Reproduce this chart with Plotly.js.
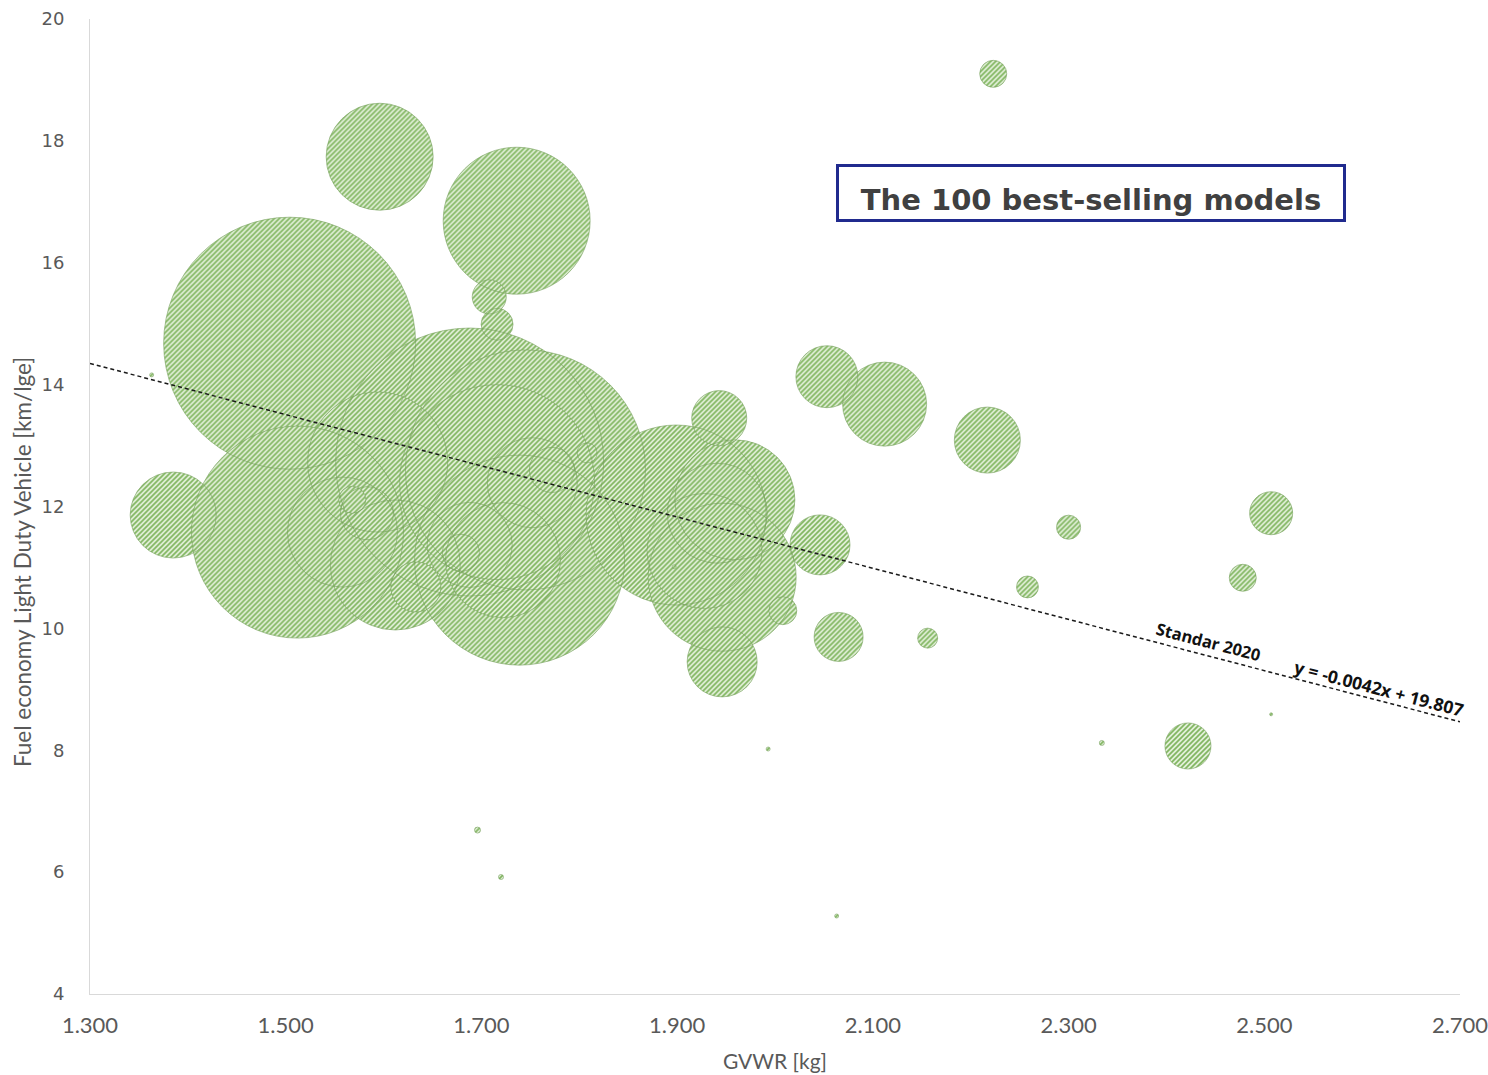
<!DOCTYPE html>
<html>
<head>
<meta charset="utf-8">
<script src="https://cdn.plot.ly/plotly-3.0.1.min.js"></script>
<style>
  html, body { margin: 0; padding: 0; background: #ffffff; }
  #chart { width: 1488px; height: 1075px; }
</style>
</head>
<body>
<div id="chart"></div>
<script>
// ---- Data ----
// GVWR [kg] of each model
const gvwr = [
  1504, 1596, 1736, 1708, 1716, 1385, 1512, 1688, 1745, 1739,
  1612, 1594, 1558, 1583, 1568, 1633, 1688, 1722, 1752, 1772,
  1808, 1679, 1716, 1899, 1959, 1946, 1941, 1928, 1943, 1946,
  2008, 2046, 2065, 2053, 2112, 2217, 2223, 2300, 2507, 2258,
  2478, 2156, 2422, 1363, 1696, 1720, 1993, 2063, 2334, 2507,
  1897
];
// Fuel economy [km/lge]
const fuelEconomy = [
  14.68, 17.74, 16.69, 15.44, 14.99, 11.86, 11.58, 12.73, 12.60, 11.12,
  11.04, 12.73, 11.58, 11.89, 12.11, 10.68, 11.37, 11.12, 12.39, 12.60,
  12.88, 11.24, 12.40, 11.86, 12.11, 10.84, 11.89, 11.27, 13.45,  9.45,
  10.29, 11.37,  9.86, 14.13, 13.68, 13.09, 19.10, 11.66, 11.89, 10.68,
  10.83,  9.84,  8.07, 14.16,  6.69,  5.92,  8.02,  5.28,  8.12,  8.59,
  11.01
];
// Sales (bubble size, proportional to bubble area)
const sales = [
  63500, 11450, 21600, 1160, 1020, 7400, 44950, 71800, 57600, 44100,
  16900, 19600, 12100, 2810, 730, 2500, 7230, 13230, 8100, 2030,
  400, 1370, 38000, 32400, 14400, 21900, 10000, 13230, 3030, 4900,
  780, 3600, 2400, 3840, 7060, 4360, 730, 580, 1850, 480,
  730, 400, 2120, 16, 36, 25, 16, 16, 25, 9,
  16
];
// Standard 2020 line: y = slope * x + intercept
const trendSlope = -0.0042;
const trendIntercept = 19.807;
const trendX = [1300, 2700];
const trendY = trendX.map(v => trendSlope * v + trendIntercept);

// Tick labels
const xTickVals = [1300, 1500, 1700, 1900, 2100, 2300, 2500, 2700];
const xTickText = ['1.300', '1.500', '1.700', '1.900', '2.100', '2.300', '2.500', '2.700'];
const yTickVals = [4, 6, 8, 10, 12, 14, 16, 18, 20];
const yTickText = ['4', '6', '8', '10', '12', '14', '16', '18', '20'];

// ---- Styling ----
const narrow = 'Lato, "Open Sans", sans-serif';
const grey = '#595959';

const bubbleFill = {
  type: 'scatter', mode: 'markers',
  x: gvwr, y: fuelEconomy,
  marker: {
    size: sales, sizemode: 'area', sizeref: 2, sizemin: 0,
    color: '#B8D9A2', line: { width: 0 }, opacity: 1
  },
  hoverinfo: 'skip', showlegend: false
};
const bubbleEdge = {
  type: 'scatter', mode: 'markers',
  x: gvwr, y: fuelEconomy,
  marker: {
    size: sales, sizemode: 'area', sizeref: 2, sizemin: 0,
    color: 'rgba(0,0,0,0)', line: { width: 1, color: 'rgba(118,160,92,0.85)' }
  },
  hoverinfo: 'skip', showlegend: false
};
const trend = {
  type: 'scatter', mode: 'lines',
  x: trendX, y: trendY,
  line: { color: '#1a1a1a', width: 1.5, dash: '4px,3px' },
  hoverinfo: 'skip', showlegend: false
};

const layout = {
  width: 1488, height: 1075,
  margin: { l: 90, r: 28, t: 19, b: 81 },
  paper_bgcolor: '#ffffff', plot_bgcolor: '#ffffff',
  showlegend: false,
  xaxis: {
    range: [1300, 2700], showgrid: false, zeroline: false,
    showline: true, linecolor: '#D9D9D9', linewidth: 1,
    tickvals: xTickVals, ticktext: xTickText, ticks: '',
    tickfont: { family: narrow, size: 22, color: grey },
    ticklabelstandoff: 12, ticklabeloverflow: 'allow',
    title: { text: 'GVWR [kg]', font: { family: narrow, size: 21, color: grey }, standoff: 16 },
    automargin: false
  },
  yaxis: {
    range: [4, 20], showgrid: false, zeroline: false,
    showline: true, linecolor: '#D9D9D9', linewidth: 1,
    tickvals: yTickVals, ticktext: yTickText, ticks: '',
    tickfont: { family: '"DejaVu Sans", Verdana, sans-serif', size: 18, color: grey },
    ticklabelstandoff: 21, ticklabeloverflow: 'allow',
    automargin: false
  },
  annotations: [
    {
      // y-axis title (offset downward as in the original)
      x: -0.0496, y: 0.443, xref: 'paper', yref: 'paper', showarrow: false,
      xanchor: 'center', yanchor: 'middle', textangle: -90,
      text: 'Fuel economy Light Duty Vehicle [km/lge]',
      font: { family: narrow, size: 22.5, color: grey }
    },
    {
      x: 2323, y: 17.14, xref: 'x', yref: 'y', showarrow: false,
      xanchor: 'center', yanchor: 'middle', valign: 'bottom',
      text: '<b>The 100 best-selling models</b>',
      font: { family: '"DejaVu Sans", Verdana, sans-serif', size: 29, color: '#404040' },
      bordercolor: '#202A8E', borderwidth: 3, borderpad: 2, bgcolor: '#ffffff',
      width: 500, height: 48
    },
    {
      x: 2443, y: 9.79, xref: 'x', yref: 'y', showarrow: false,
      text: '<b>Standar 2020</b>', textangle: 14.6,
      font: { family: '"Open Sans", sans-serif', size: 16.5, color: '#111111' }
    },
    {
      x: 2617, y: 9.02, xref: 'x', yref: 'y', showarrow: false,
      text: '<b>y = -0.0042x + 19.807</b>', textangle: 14.6,
      font: { family: '"Open Sans", sans-serif', size: 17.5, color: '#111111' }
    }
  ]
};

Plotly.newPlot('chart', [bubbleFill, bubbleEdge, trend], layout, { staticPlot: true, displayModeBar: false })
  .then(function (gd) {
    // diagonal hatch fill like the original bubbles
    const NS = 'http://www.w3.org/2000/svg';
    const svg = gd.querySelector('.main-svg');
    let defs = svg.querySelector('defs');
    if (!defs) { defs = document.createElementNS(NS, 'defs'); svg.insertBefore(defs, svg.firstChild); }
    const pat = document.createElementNS(NS, 'pattern');
    pat.setAttribute('id', 'bubbleHatch');
    pat.setAttribute('patternUnits', 'userSpaceOnUse');
    pat.setAttribute('width', '5'); pat.setAttribute('height', '5');
    const bg = document.createElementNS(NS, 'rect');
    bg.setAttribute('width', '5'); bg.setAttribute('height', '5'); bg.setAttribute('fill', '#E4F1DB');
    const ln = document.createElementNS(NS, 'path');
    ln.setAttribute('d', 'M0,5 L5,0 M-1,1 L1,-1 M4,6 L6,4');
    ln.setAttribute('stroke', '#80B55F'); ln.setAttribute('stroke-width', '1.7');
    pat.appendChild(bg); pat.appendChild(ln); defs.appendChild(pat);
    const firstTrace = gd.querySelectorAll('.scatterlayer .trace')[0];
    if (firstTrace) {
      firstTrace.querySelectorAll('path.point').forEach(function (p) { p.style.fill = 'url(#bubbleHatch)'; });
    }
  });
</script>
</body>
</html>
